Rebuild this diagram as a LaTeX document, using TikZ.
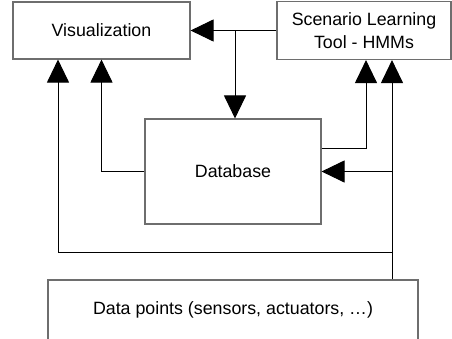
\documentclass[tikz,border=0pt]{standalone}
\usepackage{fontspec}
\setmainfont{Liberation Sans}
\usetikzlibrary{arrows.meta,calc}
\definecolor{boxline}{RGB}{110,110,110}
\tikzset{
  block/.style={draw=boxline, line width=1.1pt, fill=white, inner sep=0pt,
    align=center, font=\fontsize{17.8}{22.5}\selectfont},
  link/.style={draw=black, line width=1pt},
  arr/.style={link, -{Triangle[length=23pt,width=22pt]}}
}
\begin{document}
\begin{tikzpicture}[x=1pt,y=-1pt]
  \useasboundingbox (0,0) rectangle (452,338);
  \clip (0,0) rectangle (452,338);
  \fill[white] (0,0) rectangle (452,338);

  % boxes
  \node[block, minimum width=177pt, minimum height=57pt] (vis) at (101.5,30.5) {Visualization};
  \node[block, minimum width=174pt, minimum height=58pt] (scen) at (364,30.5) {Scenario Learning\\Tool - HMMs};
  \node[block, minimum width=176pt, minimum height=105pt] (db) at (233,171.5) {Database};
  \node[block, minimum width=370pt, minimum height=60pt] (data) at (233,310) {Data points (sensors, actuators, …)};

  % guide coordinates for the vertical runs
  \coordinate (lx) at (58,0);
  \coordinate (ax) at (366,0);
  \coordinate (rx) at (392,0);
  \coordinate (j1) at (235,30.5);
  \coordinate (bot) at (392,252);

  % learning tool to visualization, with branch down to the database
  \draw[arr] (scen.west) -- (vis.east);
  \draw[arr] (j1) -- (j1 |- db.north);

  % database to visualization
  \draw[arr] (db.west) -| (vis.south);

  % data points feed visualization, database and learning tool
  \draw[arr] (data.north -| rx) -- (scen.south -| rx);
  \draw[arr] (bot) -| (vis.south -| lx);
  \draw[arr] (db.east -| rx) -- (db.east);

  % database to learning tool
  \draw[arr] ([yshift=23.5pt]db.east) -| (scen.south -| ax);
\end{tikzpicture}
\end{document}
